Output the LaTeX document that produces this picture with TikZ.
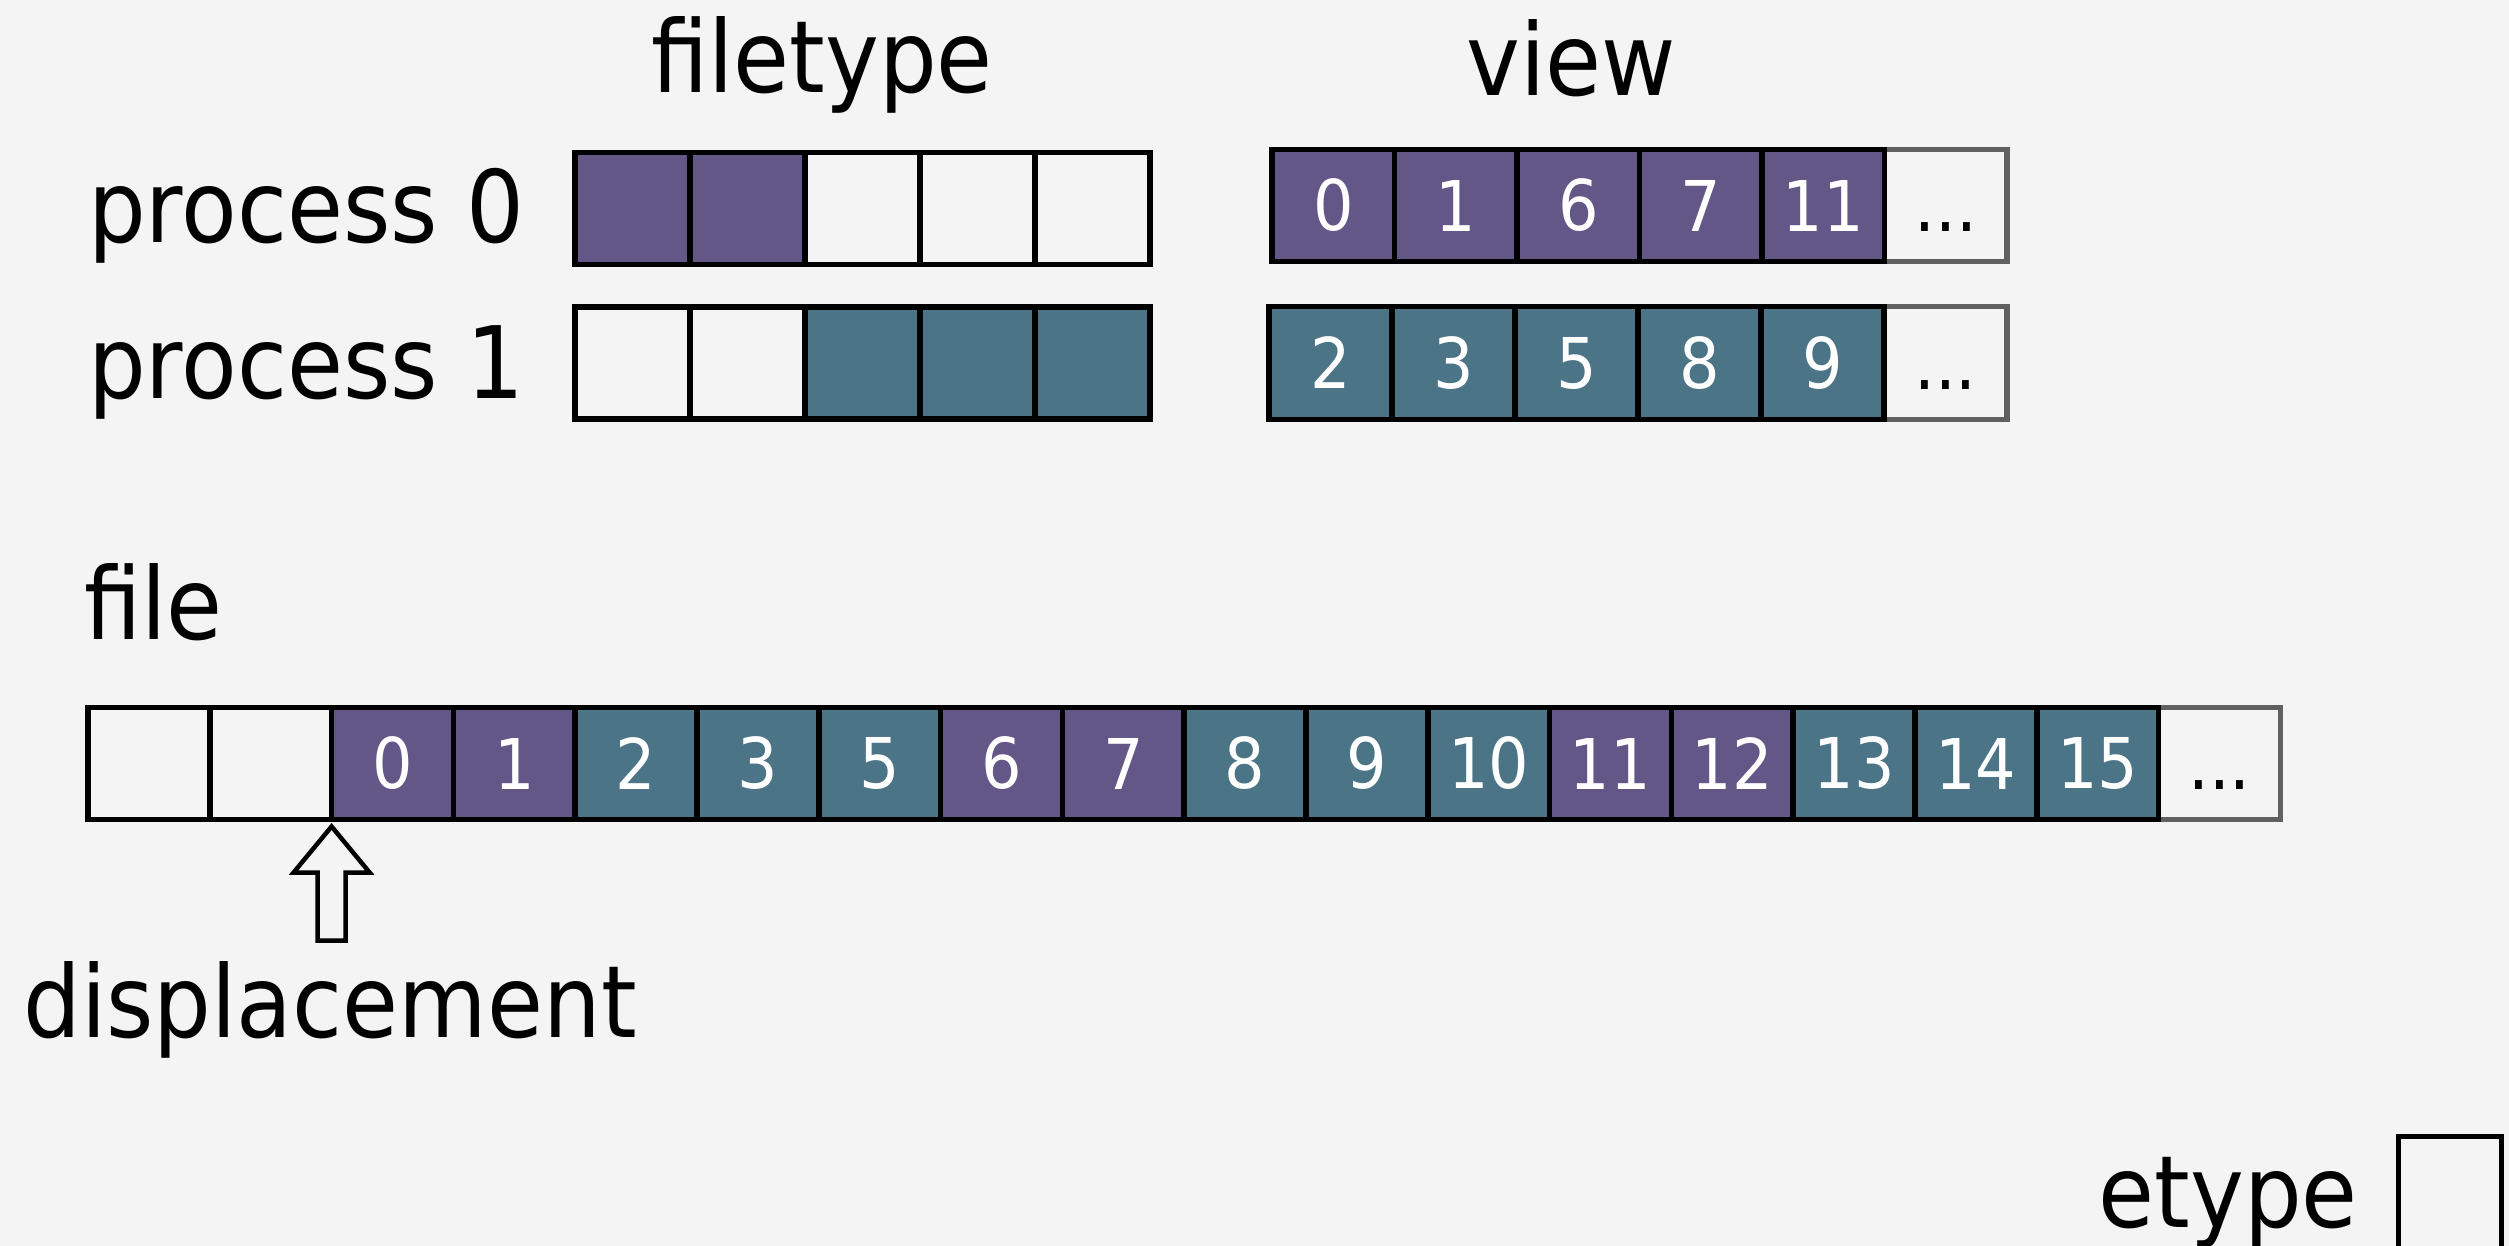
\documentclass[tikz,border=0pt]{standalone}
\usepackage{fontspec}
\setmainfont{DejaVu Sans}[FakeStretch=0.91]
\definecolor{bg}{RGB}{244,244,244}
\definecolor{procA}{RGB}{99,87,135}
\definecolor{procB}{RGB}{75,116,135}
\definecolor{moregray}{RGB}{96,96,96}
\begin{document}
\begin{tikzpicture}[x=1pt,y=-1pt,
  cellbase/.style={rectangle, draw=black, line width=5.5pt, inner sep=0pt, outer sep=0pt,
    font=\fontsize{70}{84}\selectfont, text=white},
  pcell/.style={cellbase, fill=procA},
  tcell/.style={cellbase, fill=procB},
  ecell/.style={cellbase, fill=bg},
  more/.style={cellbase, draw=moregray, fill=bg, text=black, font=\fontsize{72}{84}\selectfont},
  ftcell/.style={minimum width=115pt, minimum height=112pt},
  vcell/.style={minimum width=122.5pt, minimum height=112pt},
  flcell/.style={minimum width=121.8pt, minimum height=112pt},
  biglabel/.style={font=\fontsize{100}{120}\selectfont, inner sep=0pt, text=black},
  hollow/.style={draw=black, line width=4.5pt, fill=bg, line join=miter}]

\fill[bg] (0,0) rectangle (2509,1246);
\useasboundingbox (0,0) rectangle (2509,1246);

% headings and row labels
\node[biglabel, anchor=base] (ftitle) at (822,93) {filetype};
\node[biglabel, anchor=base] (vtitle) at (1571,96) {view};
\node[biglabel, anchor=base west] (p0) at (88,243) {process 0};
\node[biglabel, anchor=base west] (p1) at (88,399) {process 1};
\node[biglabel, anchor=base west] (flabel) at (84,639) {file};

% filetype of each process
\foreach \s [count=\i from 0] in {pcell,pcell,ecell,ecell,ecell}
  \node[\s, ftcell] (ft0c\i) at ({575+115*(\i+0.5)},208.5) {};
\foreach \s [count=\i from 0] in {ecell,ecell,tcell,tcell,tcell}
  \node[\s, ftcell] (ft1c\i) at ({575+115*(\i+0.5)},363) {};

% view of each process
\node[more, vcell] (v0m) at ({1272+122.5*5.5},205.5) {\vphantom{0}...};
\foreach \v [count=\i from 0] in {0,1,6,7,11}
  \node[pcell, vcell] (v0c\i) at ({1272+122.5*(\i+0.5)},205.5) {\v};
\node[more, minimum width=123pt, minimum height=113pt] (v1m) at ({1269+123*5.5},363) {\vphantom{0}...};
\foreach \v [count=\i from 0] in {2,3,5,8,9}
  \node[tcell, minimum width=123pt, minimum height=113pt] (v1c\i) at ({1269+123*(\i+0.5)},363) {\v};

% the file
\node[more, flcell] (fm) at ({88+121.8*17.5},763.5) {\vphantom{0}...};
\node[ecell, flcell] (f0) at ({88+121.8*0.5},763.5) {};
\node[ecell, flcell] (f1) at ({88+121.8*1.5},763.5) {};
\foreach \v/\s [count=\i from 2] in {0/pcell,1/pcell,2/tcell,3/tcell,5/tcell,6/pcell,7/pcell,
    8/tcell,9/tcell,10/tcell,11/pcell,12/pcell,13/tcell,14/tcell,15/tcell}
  \node[\s, flcell] (f\i) at ({88+121.8*(\i+0.5)},763.5) {\v};

% displacement marker
\draw[hollow] (f1.south east) ++(0,7) -- ++(38,46) -- ++(-24,0) -- ++(0,68)
  -- ++(-28,0) -- ++(0,-68) -- ++(-24,0) -- cycle;
\node[biglabel, anchor=base] (disp) at (330,1037) {displacement};

% elementary type
\node[ecell, minimum width=103pt, minimum height=130pt, anchor=north west] (ebox) at (2398.5,1136.5) {};
\node[biglabel, anchor=base east] (elabel) at (2358,1227) {etype};
\end{tikzpicture}
\end{document}
